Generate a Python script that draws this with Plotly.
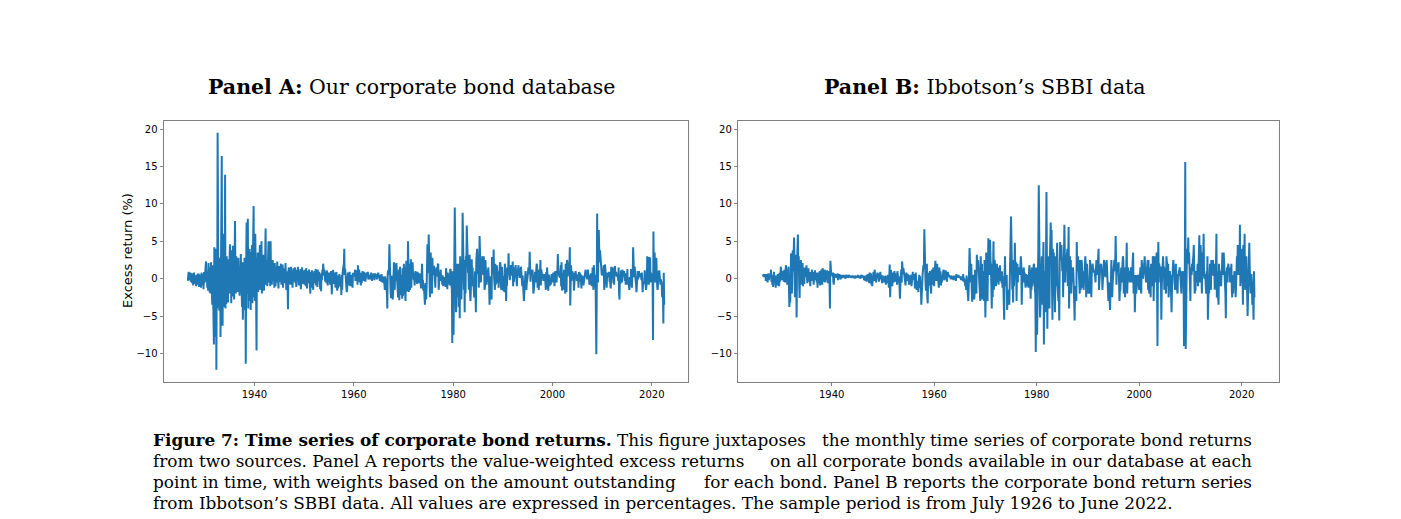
import pandas as pd
import plotly.graph_objects as go

BLUE = "#1f77b4"
SPINE = "#808080"
W, H = 1401, 519

# monthly excess returns (%), July 1926 - June 2022
A_1926_1929 = [
    -0.3, 0.5, 0.9, 0.2, 0.7, -0.2,
    0.8, -0.4, 0.6, 0.1, -0.6, 0.7, 0.3, -0.9, 0.5, 0.8, -0.2, 0.4,
    -0.7, 0.3, -1.0, 0.5, 0.2, -0.8, 0.6, -0.3, 0.7, -1.1, 0.2, 0.5,
    -0.5, 0.4, -1.2, 0.8, -0.3, 0.6, -0.9, 0.3, -1.4, 0.9, -0.6, 0.5,
]
A_1930S = [
    0.8, 1.2, 2.3, -0.4, 1.0, -1.2, 0.6, -1.6, 2.1, -0.8, 0.5, -1.9,
    1.5, -2.0, 2.2, -1.0, 0.8, -3.5, 1.8, -2.6, -4.3, -8.8, 4.2, -6.5,
    3.5, -7.8, 4.0, -12.2, 2.5, -4.0, 19.5, 5.8, -3.2, 1.5, -4.3, 2.8,
    2.1, -7.8, 3.5, 5.0, 16.4, -1.5, -6.3, 3.0, 6.0, -2.8, 4.5, -3.8,
    13.9, -4.0, 2.5, -3.4, 3.0, -1.5, 1.8, -3.2, 2.6, 0.5, -2.0, 3.1,
    4.6, -1.2, 2.0, -3.3, 3.8, 0.6, -2.4, 4.4, -1.0, 1.5, -2.8, 2.2,
    7.7, 0.4, -2.0, 3.0, -1.1, 2.4, -1.8, 1.2, 2.8, -0.9, 1.6, -2.3,
    0.8, -1.5, 3.3, -2.6, 1.0, -3.8, 2.2, -5.5, -2.4, 1.3, -4.2, 2.8,
    -3.0, 2.5, -11.4, 1.5, 7.5, -2.0, 4.0, 8.0, -4.0, 3.5, -2.8, 4.0,
    -3.0, 2.0, -4.2, 3.6, -1.5, 4.5, -3.3, 1.0, 6.0, 9.7, -2.5, 3.0,
]
A_1940S = [
    -3.0, 6.0, 1.5, -2.5, -9.6, 2.8, 0.5, 3.5, -1.8, 2.0, -0.8, 1.6,
    4.5, -1.5, 2.5, 0.8, 5.0, -2.0, 1.8, -0.5, 3.2, 0.2, -1.6, 2.4,
    1.0, 3.0, 6.7, -0.8, 2.5, 1.2, -1.0, 2.0, 0.6, 5.0, -0.5, 3.0,
    1.5, -1.0, 5.0, 0.5, 2.2, -0.8, 1.4, 2.5, -0.3, 1.8, 0.6, -1.2,
    2.1, 0.3, -1.0, 1.6, 0.8, -0.5, 2.3, 0.1, 1.2, -1.3, 0.9, 1.7,
    -0.4, 1.5, 0.6, 2.0, -0.8, 1.1, 0.3, 1.9, -1.2, 0.7, 1.4, -0.2,
    1.2, -0.6, 2.1, 0.4, -1.5, 1.0, 0.2, -0.9, -4.1, 0.8, 1.5, -0.7,
    1.3, 0.2, -0.8, 1.6, 0.5, -0.3, 1.1, -1.2, 0.7, 1.4, -0.4, 0.8,
    0.3, 1.5, -0.6, 0.9, -1.1, 1.2, 0.4, -0.2, 1.6, 0.1, -0.9, 1.0,
    0.6, -0.5, 1.3, -1.4, 0.8, 0.2, 1.5, -0.7, 0.4, 1.1, -0.3, 0.9,
]
A_1950S = [
    -0.8, 1.2, 0.3, -1.0, 1.4, 0.5, -1.3, 0.7, 1.0, -0.6, 0.4, 1.2,
    0.2, -0.7, -2.0, 0.9, -1.2, 0.5, 1.1, -0.4, 0.6, -1.5, 0.8, 0.3,
    1.0, -0.6, 0.4, 1.3, -0.9, 0.7, 0.2, -1.1, 1.2, 0.5, -0.3, 0.9,
    -0.5, 0.3, -1.4, 0.6, -1.7, 0.8, -0.2, 1.2, 0.4, 2.0, 1.6, 0.7,
    1.2, 0.5, -0.4, 0.9, 0.2, -0.6, 1.1, 0.3, -0.9, 0.6, 0.1, 0.8,
    -0.3, 0.5, -0.8, 0.4, 1.0, -0.5, -2.1, 0.6, -0.2, 1.2, -0.7, 0.3,
    0.8, -0.4, 0.5, -1.2, 0.3, 0.9, -0.8, -1.6, 0.4, -1.3, 0.2, -0.9,
    0.6, -0.5, 0.3, -1.1, -0.4, -2.2, 0.5, -1.5, 0.8, 1.2, 1.6, 2.0,
    4.0, 0.5, 1.3, 0.7, -0.5, -1.0, -1.8, -1.3, 0.4, 0.8, -0.2, -0.9,
    0.3, 0.9, -0.6, -1.0, 0.2, -0.7, 0.5, -0.4, -1.2, 0.8, 0.3, 0.6,
]
A_1960S = [
    0.7, 0.4, 1.2, -0.3, 0.6, 0.9, 0.5, 1.1, -0.8, 1.8, -0.4, 0.2,
    1.2, 0.3, -0.5, 0.8, -0.9, 0.4, -0.6, 0.2, 1.0, 0.6, -0.3, 0.5,
    0.9, 0.2, 0.7, -0.4, 0.5, -0.2, 0.8, 0.3, 0.6, 0.9, -0.1, 0.4,
    0.2, 0.5, -0.1, 0.6, 0.3, 0.8, 0.1, -0.3, 0.4, 0.6, 0.2, 0.7,
    0.3, -0.2, 0.5, 0.7, 0.1, 0.4, 0.6, -0.1, 0.3, 0.5, 0.8, 0.2,
    0.4, 0.1, -0.3, 0.5, 0.2, -0.4, 0.6, 0.1, -0.5, 0.3, -0.2, -0.6,
    0.2, -0.8, -1.5, 0.3, -0.9, -0.4, -1.2, -2.0, -4.0, 0.6, 1.1, 0.5,
    1.5, 4.6, 0.8, -0.6, -1.8, -2.6, 0.4, -1.2, -0.5, -2.8, -2.1, 0.3,
    2.2, 0.5, -1.5, 1.0, -0.3, 1.8, 2.1, 0.7, -1.0, -1.9, -2.5, 0.4,
    1.2, -2.9, -0.8, 1.6, -2.2, -1.4, 0.5, -0.6, -2.7, 1.4, -2.3, -0.9,
]
A_1970S = [
    2.0, 0.3, 1.1, -2.4, -3.0, 0.9, 2.4, 1.8, 0.6, -1.7, 5.0, 2.5,
    -1.8, 2.0, 0.5, -1.5, -0.8, 2.6, -1.2, 1.5, 0.8, 2.2, 1.0, 0.3,
    -0.2, 0.6, -0.9, 0.4, 1.0, -0.5, 0.8, 0.3, -0.7, 0.9, 0.5, -0.3,
    0.2, -0.6, 0.7, -0.4, 0.1, -1.0, -1.3, 0.4, 2.0, -0.5, -0.2, -1.6,
    -0.8, -1.5, -2.6, -3.5, -0.6, -2.0, -2.8, -1.2, 0.6, 4.6, 1.0, 0.8,
    5.9, 2.4, -0.8, -2.5, 1.0, 3.5, -1.5, -0.9, -2.0, 2.8, 0.5, 1.6,
    0.9, 1.7, -0.5, 0.8, -1.2, 1.3, 0.4, 1.5, 1.0, 0.3, 1.9, 2.0,
    -1.5, -0.4, 0.6, 0.9, 0.2, 1.2, -0.3, 0.5, -0.1, -0.8, 0.4, -1.0,
    -0.6, 0.2, -0.3, -0.9, -0.5, -1.1, 1.4, 0.6, -0.4, -1.4, 0.8, 0.3,
    0.5, -0.7, 0.4, -0.9, 1.3, 1.2, -0.2, -0.8, -1.5, -8.6, 1.0, -1.9,
]
A_1980S = [
    -7.5, -4.5, 3.0, 9.5, 5.0, 1.0, -4.5, -3.5, 2.0, -1.8, 0.8, -2.5,
    2.0, -3.8, 1.5, -5.3, 3.0, -2.0, -1.0, -2.8, 1.2, 2.5, 8.8, 1.5,
    0.5, -1.5, 1.5, -4.5, 2.5, -2.0, 3.0, 1.5, 7.1, 2.0, 5.7, 0.8,
    1.2, -1.5, 2.0, 3.2, -2.0, -3.0, -1.2, 0.8, 2.6, -1.0, 1.5, -0.4,
    -0.5, -1.7, -2.5, -1.8, 1.0, -2.0, -4.5, 2.5, 3.0, 4.0, 2.0, 0.6,
    3.0, -1.2, 1.5, 5.7, 2.5, 2.0, -0.5, 1.0, 1.2, 2.4, 3.0, 2.2,
    0.5, 3.0, 2.0, -1.5, -1.2, 2.5, 0.3, 1.8, -0.8, 1.2, 0.9, -0.4,
    1.5, 0.4, -1.0, -3.5, -1.8, 0.3, -1.2, -2.0, -2.8, 2.9, 0.6, 1.0,
    1.8, 3.9, 0.2, -1.2, -1.5, 2.0, -0.8, -0.3, 1.8, 1.5, -0.6, 0.3,
    1.0, -1.2, 0.5, 1.2, 2.0, 2.2, 1.3, -1.5, 0.1, 1.6, 0.4, 0.2,
]
A_1990S = [
    -1.6, -0.3, -0.5, -1.8, 2.0, 1.2, 0.5, -3.0, -0.8, -1.0, 1.5, 0.9,
    1.2, 3.4, 1.0, 0.5, -0.2, 0.6, 1.0, 1.8, 1.2, 0.4, 0.8, 2.3,
    -1.0, 0.5, -0.4, 0.6, 1.5, 1.2, 1.8, 0.9, 0.8, -1.0, 0.4, 1.1,
    1.5, 1.8, 0.4, 0.6, 0.1, 1.4, 0.5, 1.6, 0.3, 0.2, -1.0, 0.4,
    -0.3, -1.8, -3.0, -1.2, -0.5, -0.4, 1.0, -0.2, -1.5, -0.6, -0.3, 0.8,
    1.0, 1.5, 0.6, 0.9, 3.6, 0.5, -0.4, 0.9, 0.8, 1.2, 1.0, 1.2,
    -0.5, -2.0, -1.5, -0.8, -0.2, 0.9, 0.1, -0.5, 1.3, 2.0, 1.6, -1.2,
    0.0, 0.5, -1.5, 1.2, 0.9, 1.0, 2.5, -0.9, 1.2, 0.8, 0.3, 0.6,
    0.4, -0.3, 0.2, 0.1, 0.6, 0.4, -0.4, -1.5, 0.9, -1.3, 1.5, 0.2,
    0.6, -1.6, 0.5, 0.4, -1.0, -0.7, -0.5, -0.8, 0.5, 0.6, 0.4, -0.2,
]
A_2000S = [
    -0.5, 0.8, 0.2, -0.9, -1.0, 1.0, 0.8, 0.9, -0.2, -0.5, 0.9, 1.2,
    3.3, 0.5, 0.8, 0.3, 1.0, 0.1, 1.5, 1.8, -1.0, 2.2, -1.6, -0.8,
    0.5, 0.8, -1.5, 1.2, 0.8, -0.9, -2.0, 2.0, 0.6, -1.8, 2.5, 2.2,
    0.3, 1.5, 0.5, 2.0, 1.8, 4.2, -3.6, 0.5, 1.8, -0.3, 0.8, 1.0,
    0.6, 0.5, 0.8, -1.6, -0.7, 0.2, 0.9, 1.0, 0.4, 0.6, -0.3, 0.5,
    -0.2, 0.3, -1.2, 0.9, 0.7, 0.8, -0.4, 0.6, -1.0, -1.3, 0.2, 0.4,
    0.1, 0.3, -0.9, -0.5, -0.4, 0.0, 1.1, 1.2, 0.9, 0.5, 0.8, -0.1,
    0.3, 1.2, 0.1, 0.5, -0.6, -0.8, 0.2, -0.3, 0.7, 0.4, -1.0, -0.5,
    1.5, -0.8, -1.5, 1.8, 0.2, -0.9, -1.2, 0.5, -3.5, -10.1, -2.0, 8.7,
    1.5, -0.5, 2.0, 6.5, 4.0, 2.2, 3.8, 2.5, 1.8, 1.0, 0.6, 0.5,
]
A_2010S = [
    1.0, 0.4, 0.9, 1.8, -1.5, 0.5, 1.9, 1.2, 0.3, -0.5, -1.2, 0.4,
    0.8, 0.6, 0.2, 0.8, 0.9, -0.4, 0.7, -1.0, -1.3, 1.6, -0.6, 0.8,
    1.5, 0.9, 0.2, 0.8, -0.8, 1.2, 1.7, 0.4, 0.6, 0.9, 0.3, 0.5,
    0.2, 0.4, -0.3, 1.5, -2.0, -2.8, 0.5, -0.7, 0.4, 1.1, -0.1, -0.5,
    1.2, 0.8, 0.3, 0.9, 1.0, 0.2, -0.3, 0.7, -0.8, 0.5, 0.3, -0.6,
    1.3, -0.8, 0.1, -0.6, -1.1, -1.5, 0.2, -0.9, -0.7, 1.3, -0.4, -1.2,
    0.3, 0.5, 4.2, 0.8, 0.2, 1.5, 1.5, 0.4, 0.0, -0.8, -1.8, 0.6,
    0.4, 1.0, -0.1, 0.6, 1.0, 0.5, 0.7, 0.4, 0.2, 0.6, -0.2, 0.8,
    -0.4, -1.8, -0.6, -0.5, -0.7, -0.3, 1.1, 0.0, 0.5, -1.5, -1.0, -0.6,
    3.0, 1.0, 1.8, 0.7, -0.8, 2.9, 0.9, 2.8, -0.5, 0.8, 0.5, 0.4,
]
A_2020_2022 = [
    0.5, -0.5, -8.2, 6.3, 1.5, 3.0, 3.5, -0.5, -0.2, 0.3, 2.8, 0.8,
    -1.0, -1.5, -0.8, 1.0, 0.6, 1.1, 0.5, -0.2, -0.8, -0.1, -0.5, -0.7,
    -2.5, -1.2, -2.0, -6.0, 0.8, -3.5,
]

B_1926_1929 = [
    0.3, 0.5, 0.2, 0.6, 0.4, 0.3,
    0.5, -0.3, 0.6, 0.2, 0.4, -0.5, 0.3, 0.7, -0.2, 0.4, 0.1, 0.5,
    0.2, 1.2, -0.4, 0.3, -0.8, 0.5, -1.1, 0.4, 0.9, -0.6, 0.2, -0.3,
    -1.2, 0.4, -0.7, 0.3, -0.9, 0.6, -0.2, 0.1, -1.0, 0.8, -0.4, 0.5,
]
B_1930S = [
    1.6, 0.4, 1.3, -0.2, 0.9, 1.0, 0.5, -0.4, 1.2, 0.7, -0.5, 1.0,
    1.8, 0.6, 1.2, -0.8, 0.5, 1.4, 1.6, -1.0, -3.8, -2.5, -3.2, 0.8,
    3.4, 2.5, -2.0, 1.5, 3.8, 1.0, 4.5, 5.5, 2.0, -2.5, 1.8, 3.2,
    1.0, -5.2, 2.0, 4.5, 5.9, 1.5, 3.0, -1.0, -2.6, 1.8, 0.5, 2.5,
    -0.8, 1.5, 0.5, 2.1, -1.0, 1.2, 0.6, -0.7, 1.5, 0.2, 1.0, 0.4,
    1.8, 0.3, -0.6, 1.0, 0.5, 1.4, -0.4, 0.8, 0.2, -1.0, 0.9, 0.6,
    0.5, 1.2, -0.3, 0.8, 0.4, -0.8, 0.9, 0.3, 1.1, -0.2, 0.6, 0.8,
    -0.5, 0.6, -1.2, 0.3, 0.8, -0.6, 0.5, 1.0, -0.9, 0.4, -0.3, 1.2,
    0.2, -0.8, 1.4, 0.5, -0.4, 0.9, 0.2, 1.2, -0.5, 0.8, 0.6, -0.2,
    1.1, 0.4, -0.6, 0.7, 1.0, 0.2, -0.3, -4.0, 2.4, 1.5, 0.5, 0.8,
]
B_1940S = [
    0.6, 0.3, 0.8, -0.4, -0.8, 0.7, 0.5, 0.2, 0.6, 0.4, 0.1, 0.5,
    0.3, 0.7, -0.2, 0.5, 0.4, 0.6, 0.2, 0.4, -0.1, 0.3, 0.5, 0.2,
    0.4, 0.1, 0.3, 0.5, 0.2, 0.4, 0.3, 0.0, 0.4, 0.2, 0.5, 0.3,
    0.2, 0.4, 0.1, 0.3, 0.5, 0.2, 0.3, 0.4, 0.1, 0.3, 0.2, 0.4,
    0.3, 0.1, 0.4, 0.2, 0.3, 0.0, 0.4, 0.2, 0.3, 0.1, 0.4, 0.3,
    0.2, 0.5, 0.1, 0.3, 0.2, 0.4, 0.0, 0.3, 0.2, 0.5, 0.1, 0.4,
    0.3, 0.1, 0.4, -0.2, 0.3, 0.2, -0.3, 0.4, 0.1, -0.4, 0.5, 0.2,
    0.6, -0.3, 0.4, -0.6, 0.8, 0.1, -0.5, 0.7, -0.8, 0.2, -1.0, 0.5,
    0.4, 0.9, -0.3, 0.6, 1.2, -0.2, 0.3, -0.5, 0.5, 0.1, 0.8, 0.4,
    0.6, 0.2, -0.4, 0.7, 0.3, 0.9, -0.1, 0.5, 0.2, -0.6, 0.4, 0.3,
]
B_1950S = [
    0.1, -0.5, 0.3, 0.2, -0.3, 0.4, -0.8, 0.2, -0.6, 0.3, -0.2, 0.5,
    -0.4, -1.2, 0.3, 1.9, -2.5, 0.5, 1.2, -0.6, 0.4, -1.0, 0.2, 0.8,
    0.6, -0.5, 1.0, 0.3, 0.7, -0.4, 0.2, 0.5, -0.8, 1.0, 0.4, -0.3,
    -0.6, 0.3, -1.5, -2.7, -0.8, 0.5, 1.2, -0.5, 2.3, 1.5, 0.6, 1.4,
    1.0, 0.6, 0.3, -0.4, -0.9, 0.5, 0.8, 0.2, -0.3, 0.6, 0.4, 0.2,
    -0.8, -0.3, 0.4, -0.2, 0.5, -0.6, -1.0, -0.4, 0.7, 0.9, -0.2, 0.3,
    0.6, 0.4, -1.3, -0.7, 0.8, -0.2, -1.5, -1.0, -0.5, -0.3, -1.8, -0.9,
    0.5, -0.4, 0.3, -1.2, -1.0, -3.5, -0.8, -1.4, 0.6, 1.2, 1.8, 1.5,
    6.6, 1.0, 0.5, -0.8, -1.6, -0.5, 2.0, -2.5, -3.3, 0.6, 0.8, -0.9,
    0.2, 1.0, -0.6, -1.2, -2.0, 0.5, 1.2, -0.4, -0.8, 1.5, 0.4, -1.0,
]
B_1960S = [
    0.5, 1.2, 2.4, 0.6, -0.3, 1.3, 2.0, 0.8, -0.5, 0.4, -1.2, 1.5,
    0.9, 0.3, 1.0, -0.9, 0.4, -0.5, 0.2, 0.7, 0.5, 1.2, 0.3, -0.2,
    0.8, 0.5, 1.1, 0.4, 0.2, -0.4, 0.3, 0.9, 0.6, 0.5, 0.3, 0.4,
    0.2, 0.3, -0.1, 0.4, 0.2, 0.0, 0.1, 0.3, -0.2, 0.4, 0.2, -0.1,
    0.3, 0.1, -0.3, 0.6, 0.2, 0.4, 0.3, 0.2, 0.5, 0.1, 0.3, 0.2,
    0.1, 0.2, -0.2, 0.3, 0.0, 0.2, -0.3, 0.6, -0.4, 0.1, -0.2, -0.5,
    -1.0, -0.3, -1.5, 0.4, -0.6, -0.8, -1.2, -3.0, -1.0, 1.0, 4.1, 2.0,
    1.5, -0.5, 2.0, -1.2, -3.1, -1.8, 0.5, -1.0, -0.6, -2.8, -1.5, 1.2,
    0.8, -0.4, -2.0, 3.2, 1.0, 1.5, 2.5, 1.2, -0.6, -1.5, -2.0, -3.0,
    3.0, -1.8, -2.5, 2.0, -2.8, -1.5, 1.0, -0.6, -3.0, 2.5, -2.0, -5.2,
]
B_1970S = [
    -1.0, 3.5, 1.0, -2.8, -3.0, 1.5, 5.4, 2.0, 3.5, 0.5, 5.2, 2.5,
    1.5, -1.0, -4.0, 2.0, -2.5, 0.8, 5.0, -1.5, 1.0, 2.5, 0.5, 1.5,
    -1.0, 0.8, 2.0, -0.5, 1.2, 0.4, -0.8, 1.5, 0.2, 1.8, -0.3, 0.6,
    0.5, -0.6, 1.0, -1.2, 0.3, -0.8, -2.5, -5.5, 0.5, 3.0, -1.0, -0.2,
    -1.0, 0.5, -4.2, -2.5, -1.5, -3.0, -2.0, -3.5, 1.0, 4.0, 2.5, 8.3,
    5.2, 1.0, -1.5, -0.5, -3.2, 2.5, -1.0, 0.5, 4.8, 1.5, 0.5, 2.2,
    -3.0, 1.2, 2.0, -0.5, 1.5, 0.8, 1.0, 1.5, 0.5, 1.2, 3.0, 2.0,
    -3.5, -1.0, 0.5, 1.2, 0.8, 1.5, -0.5, 0.8, -0.3, -1.2, 0.6, -0.8,
    -1.0, 0.5, 0.2, -0.8, -1.2, 0.6, 1.8, 1.0, -0.5, -2.7, 1.2, -1.5,
    1.5, -1.0, 1.2, -0.6, 1.8, 2.0, -0.3, -1.5, -2.2, -9.8, 1.5, 0.8,
]
B_1980S = [
    -7.5, -5.0, -2.0, 4.0, 12.5, 1.5, -2.0, -5.2, -3.5, -1.5, 0.5, 3.0,
    2.0, -3.5, 1.5, 4.9, -8.8, 1.0, -3.0, -4.5, -2.5, 3.0, 11.6, -4.0,
    -6.7, -1.0, 1.5, 3.0, 0.5, -4.0, 2.5, 5.0, 7.5, 3.0, 6.5, -1.0,
    -5.5, 4.0, 1.0, 3.5, -2.5, -1.0, -4.5, 0.5, 3.0, -1.0, 1.5, 4.8,
    -1.0, -2.5, -3.0, -1.5, -5.6, 2.0, 4.9, 2.5, 3.0, 4.5, 3.5, 1.0,
    2.5, -2.5, 2.0, 3.0, 7.2, 1.5, -0.5, 1.5, 1.0, 2.5, 3.5, 4.0,
    -1.0, 3.5, 6.9, -4.0, -2.0, 3.0, -1.5, 2.5, -2.0, 1.5, 1.0, -0.5,
    1.5, 0.8, -1.0, -3.5, -5.6, -1.0, -1.5, -2.0, -3.0, 4.9, 1.0, 2.0,
    3.0, 1.5, -1.5, -1.0, -2.0, 2.5, -1.5, -1.0, 2.5, 2.0, -1.2, 0.5,
    1.0, -1.5, 0.5, 1.8, 2.8, 3.0, 2.0, -2.5, 0.5, 2.0, 0.5, 0.2,
]
B_1990S = [
    -2.0, -0.5, -0.5, -2.0, 2.5, 1.5, 1.0, -2.5, 0.5, 1.0, 2.0, 1.5,
    1.0, 1.2, 0.8, 1.0, 0.3, -0.5, 1.5, 2.5, 2.0, 0.5, 1.0, 2.8,
    4.0, -1.5, 0.5, -0.8, 1.5, 1.8, 2.0, 1.0, 1.0, -1.5, 0.5, 1.5,
    1.8, 2.5, 0.5, 0.8, 0.2, 2.2, 1.0, 2.5, 0.5, 0.5, -1.5, -3.0,
    -0.5, -2.5, -3.5, -4.2, -1.0, -0.5, 2.5, -0.5, -2.5, -0.5, 0.2, 1.5,
    1.5, 2.5, 1.0, 1.5, 5.7, 1.0, -0.8, 1.5, 1.2, 1.8, 2.0, 2.2,
    -0.5, -3.0, -1.5, -1.5, -0.5, 1.5, 0.2, -0.5, 2.0, 3.0, 2.5, -2.0,
    -0.5, 0.5, -2.5, 1.5, 1.0, 1.5, 4.8, -2.0, 1.5, 1.5, 0.5, 1.0,
    1.0, -0.5, 0.5, 0.5, 1.5, 1.0, -0.5, 0.5, 2.5, 3.5, -2.0, -0.5,
    0.5, -4.5, -0.5, 0.5, -2.0, -1.5, -1.0, -0.5, 0.5, 0.3, -0.5, -1.5,
]
B_2000S = [
    -0.5, 1.0, 1.5, -1.5, -2.0, 2.5, 1.5, 1.5, 0.0, 0.5, 2.0, 2.5,
    3.0, 1.0, 0.8, -0.5, 0.5, 0.5, 2.5, 2.5, -1.5, 2.5, -1.5, -2.0,
    1.5, 1.0, -2.5, 2.0, 1.0, -1.0, -0.5, 3.0, 2.5, -3.0, 1.5, 3.0,
    0.5, 2.0, -0.5, 2.5, 3.5, -0.5, -9.0, 1.0, 4.9, -0.5, 2.0, 1.5,
    1.5, 1.5, 1.0, -5.5, -1.0, 0.5, 2.0, 3.0, 1.5, 1.5, -1.5, 1.0,
    1.5, -1.0, -2.0, 3.0, 2.5, 1.5, -1.0, 2.0, -2.5, -1.5, 0.5, 1.0,
    0.0, 0.5, -2.5, -4.5, -1.0, -0.5, 1.5, 2.5, 1.5, 1.0, 1.0, -1.5,
    -0.5, 2.0, -1.0, 0.5, -1.5, -2.0, 0.5, 0.5, 1.0, 1.0, 1.5, -0.5,
    0.5, -1.0, -2.0, 1.0, -0.5, -1.0, -0.5, 1.0, -9.0, -4.0, 1.0, 15.6,
    -9.4, -3.0, 2.0, 4.0, 3.0, 2.5, 5.5, 2.0, 3.5, 1.5, -1.0, -3.0,
]
B_2010S = [
    1.5, 0.5, 0.5, 2.0, 1.0, 2.5, 3.0, 4.5, -1.0, -2.0, -1.5, -1.5,
    0.5, 1.0, -0.5, 1.5, 2.0, -1.0, 2.5, 3.0, 5.8, -0.5, 0.5, 4.5,
    1.5, -0.5, -2.0, 2.5, 3.5, 2.5, 6.0, 0.5, 0.0, 0.5, 0.5, -1.0,
    -2.0, 1.0, -0.5, 3.0, -5.5, -3.0, -1.0, -2.0, 0.5, 2.0, -1.0, -1.5,
    2.5, 1.5, 0.5, 1.5, 2.5, 0.5, 0.5, 2.0, -1.5, 1.5, 1.5, 2.0,
    6.0, -2.5, 1.0, -2.5, -2.5, -3.5, 2.0, -1.0, 1.0, 0.5, -0.5, -1.0,
    1.0, 1.5, 3.5, 1.5, 0.5, 3.5, 2.5, 0.5, -0.5, -2.0, -5.3, 1.0,
    0.5, 1.5, -0.5, 1.5, 2.0, 1.0, 1.0, 1.5, -0.5, 0.8, 0.5, 2.0,
    -1.5, -2.5, 0.5, -2.0, 0.0, -1.0, 1.0, 0.5, -1.0, -2.5, -1.0, 1.0,
    3.0, 0.5, 4.5, 0.5, 2.0, 3.5, 0.5, 7.2, -1.0, 0.5, 1.0, -0.5,
]
B_2020_2022 = [
    4.0, 2.0, -3.5, 4.5, 1.5, 2.0, 6.0, -1.5, 0.0, -1.0, 3.0, 0.5,
    -2.0, -5.0, -2.5, 2.0, 1.0, 4.8, 1.5, -0.5, -2.0, 0.5, 0.5, -0.5,
    -3.5, -2.5, -2.5, -5.5, 1.0, -2.5,
]

TICK_YEARS = ["1940", "1960", "1980", "2000", "2020"]
Y_TICKS = [-10, -5, 0, 5, 10, 15, 20]

panel_a = (A_1926_1929 + A_1930S + A_1940S + A_1950S + A_1960S + A_1970S
           + A_1980S + A_1990S + A_2000S + A_2010S + A_2020_2022)
panel_b = (B_1926_1929 + B_1930S + B_1940S + B_1950S + B_1960S + B_1970S
           + B_1980S + B_1990S + B_2000S + B_2010S + B_2020_2022)
assert len(panel_a) == 1152 and len(panel_b) == 1152

months = pd.date_range("1926-07-31", periods=len(panel_a), freq="ME")

# matplotlib-like 5% margins
span = months[-1] - months[0]
x_range = [months[0] - span * 0.05, months[-1] + span * 0.05]
lo, hi = min(panel_a + panel_b), max(panel_a + panel_b)
y_range = [lo - 0.05 * (hi - lo), hi + 0.05 * (hi - lo)]

fig = go.Figure()
fig.add_trace(go.Scatter(x=months, y=panel_a, mode="lines",
                         line=dict(color=BLUE, width=2),
                         xaxis="x", yaxis="y"))
fig.add_trace(go.Scatter(x=months, y=panel_b, mode="lines",
                         line=dict(color=BLUE, width=2),
                         xaxis="x2", yaxis="y2"))

axis_style = dict(showline=True, linecolor=SPINE, linewidth=1, mirror=True,
                  ticks="outside", ticklen=3.5, tickwidth=1, tickcolor=SPINE,
                  showgrid=False, zeroline=False,
                  tickfont=dict(family="DejaVu Sans", size=10, color="#000000"))
y_dom = [1 - 381.7 / H, 1 - 121 / H]

fig.update_layout(
    width=W, height=H,
    margin=dict(l=0, r=0, t=0, b=0),
    paper_bgcolor="white", plot_bgcolor="white",
    showlegend=False,
    xaxis=dict(axis_style, domain=[164 / W, 688 / W], anchor="y", type="date",
               range=x_range, tickvals=[f"{y}-01-01" for y in TICK_YEARS],
               ticktext=TICK_YEARS),
    yaxis=dict(axis_style, domain=y_dom, anchor="x", range=y_range,
               tickvals=Y_TICKS),
    xaxis2=dict(axis_style, domain=[738.3 / W, 1279 / W], anchor="y2",
                type="date", range=x_range,
                tickvals=[f"{y}-01-01" for y in TICK_YEARS],
                ticktext=TICK_YEARS),
    yaxis2=dict(axis_style, domain=y_dom, anchor="x2", range=y_range,
                tickvals=Y_TICKS),
)

serif = "DejaVu Serif"


def note(text, x, y, size, xanchor="center", family=serif, angle=0):
    fig.add_annotation(text=text, x=x / W, y=1 - y / H, xref="paper",
                       yref="paper", xanchor=xanchor, yanchor="middle",
                       showarrow=False, textangle=angle,
                       font=dict(family=family, size=size, color="#000000"))


note("<b>Panel A:</b> Our corporate bond database", 411, 87, 20.5)
note("<b>Panel B:</b> Ibbotson\u2019s SBBI data", 985, 87, 20.5)
note("Excess return (%)", 128, 251, 13, family="DejaVu Sans", angle=-90)

# caption, each justified line split into a left and a right piece
CAPTION = [
    ("<b>Figure 7: Time series of corporate bond returns.</b> This figure juxtaposes",
     "the monthly time series of corporate bond returns"),
    ("from two sources. Panel A reports the value-weighted excess returns",
     "on all corporate bonds available in our database at each"),
    ("point in time, with weights based on the amount outstanding",
     "for each bond. Panel B reports the corporate bond return series"),
    ("from Ibbotson\u2019s SBBI data. All values are expressed in percentages. "
     "The sample period is from July 1926 to June 2022.", None),
]
for i, (left, right) in enumerate(CAPTION):
    yc = 439.5 + 21 * i
    note(left, 151, yc, 16.9, xanchor="left")
    if right:
        note(right, 1254, yc, 16.9, xanchor="right")

fig.write_html("out.html", config={"displayModeBar": False},
               post_script="document.body.style.margin='0';")
